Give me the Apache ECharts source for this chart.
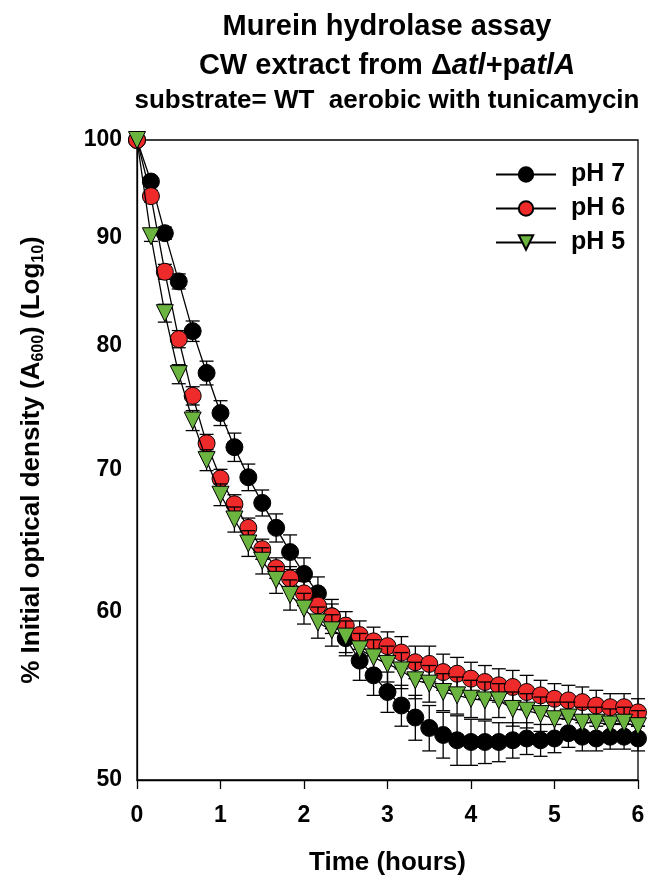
<!DOCTYPE html>
<html>
<head>
<meta charset="utf-8">
<script src="https://cdn.jsdelivr.net/npm/echarts@6/dist/echarts.min.js"></script>
<style>html,body{margin:0;padding:0;background:#fff}#c{width:660px;height:893px}</style>
</head>
<body>
<div id="c"></div>
<script>
const times = [0,0.1667,0.3333,0.5,0.6667,0.8333,1,1.1667,1.3333,1.5,1.6667,1.8333,2,2.1667,2.3333,2.5,2.6667,2.8333,3,3.1667,3.3333,3.5,3.6667,3.8333,4,4.1667,4.3333,4.5,4.6667,4.8333,5,5.1667,5.3333,5.5,5.6667,5.8333,6];
const pH7 = [100,95.6,90.4,85.8,81.3,77.7,74.4,71.7,69.4,67.5,65.7,64.0,62.5,61.2,59.7,58.3,56.9,56.0,55.0,54.2,53.5,52.9,52.5,52.2,52.1,52.1,52.1,52.2,52.3,52.2,52.3,52.6,52.4,52.3,52.4,52.4,52.3];
const pH6 = [100,94.1,86.7,80.6,75.8,72.0,69.3,67.4,65.7,64.2,62.9,62.2,61.2,60.4,59.7,59.1,58.5,58.1,57.8,57.4,56.8,56.7,56.2,56.1,55.8,55.6,55.4,55.3,55.0,54.8,54.6,54.5,54.4,54.2,54.1,54.1,53.8];
const pH5 = [100,90.1,82.9,77.6,73.8,70.7,68.1,66.3,64.6,63.4,62.1,61.1,60.2,59.3,58.8,58.4,57.6,57.1,56.7,56.3,55.7,55.5,55.0,54.8,54.6,54.5,54.5,54.0,53.9,53.7,53.4,53.5,53.2,53.2,53.1,53.2,53.0];
const err7 = [0,0.5,0.6,0.7,0.9,1.0,1.0,1.1,1.0,0.95,1.0,1.2,1.1,1.1,1.1,1.1,1.2,1.2,1.2,1.2,1.3,1.3,1.3,1.4,1.3,1.2,1.1,1.0,0.9,0.9,0.8,0.8,0.8,0.7,0.7,0.7,0.7];
const err6 = [0,0.6,0.7,0.75,0.75,0.7,0.7,0.7,0.7,0.7,0.7,0.8,0.8,0.8,0.8,0.9,0.9,0.9,0.9,1.0,1.0,1.1,1.1,1.0,1.0,1.0,1.0,1.0,1.0,0.9,0.9,0.9,0.9,0.9,0.8,0.8,0.8];
const err5 = [0,0.5,0.8,0.8,0.8,0.8,0.8,0.9,0.9,0.9,0.9,1.0,1.0,1.0,1.0,1.0,1.0,1.1,1.1,1.1,1.1,1.1,1.1,1.1,1.1,1.1,1.0,1.0,1.0,1.0,1.0,0.9,0.9,0.9,0.9,0.9,0.9];
const yTicks = [50,60,70,80,90,100];
const seriesNames = ['pH 7','pH 6','pH 5'];

const FONT = '"Liberation Sans", Arial, sans-serif';
const chart = echarts.init(document.getElementById('c'));

function pts(vals){ return times.map((t,i)=>[t, vals[i]]); }
function errData(vals, errs){ return times.map((t,i)=>[t, vals[i], errs[i]]); }
function errSeries(name, vals, errs, z){
  return {
    type:'custom', name: name+' err', z:z, silent:true, clip:false,
    data: errData(vals, errs),
    renderItem: function(params, api){
      const x = api.value(0), y = api.value(1), e = api.value(2);
      if (!e) return null;
      const top = api.coord([x, y+e]);
      const bot = api.coord([x, y-e]);
      const w = 7;
      const st = {stroke:'#000', lineWidth:1.3};
      return {type:'group', children:[
        {type:'line', shape:{x1:top[0], y1:top[1], x2:bot[0], y2:bot[1]}, style:st},
        {type:'line', shape:{x1:top[0]-w, y1:top[1], x2:top[0]+w, y2:top[1]}, style:st},
        {type:'line', shape:{x1:bot[0]-w, y1:bot[1], x2:bot[0]+w, y2:bot[1]}, style:st}
      ]};
    }
  };
}
function lineSeries(name, vals, symbol, color, z, size){
  return {
    type:'line', name:name, z:z, data: pts(vals), clip:false,
    symbol: symbol, symbolSize: size, showAllSymbol:true,
    lineStyle:{color:'#000', width:1.3},
    itemStyle:{color:color, borderColor:'#000', borderWidth:1},
    emphasis:{disabled:true}, animation:false
  };
}

const option = {
  animation:false,
  backgroundColor:'#fff',
  grid:{left:137, right:22, top:140, bottom:113, show:true, borderColor:'#000', borderWidth:1.3, backgroundColor:'transparent'},
  xAxis:{
    type:'value', min:0, max:6, interval:1,
    axisLine:{lineStyle:{color:'#000', width:1.3}},
    axisTick:{show:true, length:9, inside:false, lineStyle:{color:'#000', width:1.3}},
    axisLabel:{margin:24, color:'#000', fontFamily:FONT, fontWeight:'bold', fontSize:23},
    splitLine:{show:false},
    name:'Time (hours)', nameLocation:'middle', nameGap:70,
    nameTextStyle:{color:'#000', fontFamily:FONT, fontWeight:'bold', fontSize:26}
  },
  yAxis:{
    type:'log', logBase:10, min:50, max:100,
    axisLine:{show:true, lineStyle:{color:'#000', width:1.3}},
    axisTick:{show:false, customValues:yTicks},
    axisLabel:{margin:15, color:'#000', fontFamily:FONT, fontWeight:'bold', fontSize:23, customValues:yTicks},
    splitLine:{show:false},
    minorTick:{show:false}
  },
  legend:{
    data: seriesNames, orient:'vertical', left:495, top:162, itemWidth:60, itemHeight:18, itemGap:9,
    padding:0, selectedMode:false,
    textStyle:{color:'#000', fontFamily:FONT, fontWeight:'bold', fontSize:25, padding:[0,0,0,10]}
  },
  graphic:[
    {type:'text', x:387, y:27, style:{text:'Murein hydrolase assay', align:'center', verticalAlign:'middle', fill:'#000', font:'bold 29px '+FONT}},
    {type:'text', x:387, y:66, style:{text:'{n|CW extract from Δ}{i|atl}{n|+p}{i|atlA}', align:'center', verticalAlign:'middle',
      rich:{n:{fill:'#000', fontFamily:FONT, fontWeight:'bold', fontSize:29}, i:{fill:'#000', fontFamily:FONT, fontWeight:'bold', fontStyle:'italic', fontSize:29}}}},
    {type:'text', x:387, y:101, style:{text:'substrate= WT  aerobic with tunicamycin', align:'center', verticalAlign:'middle', fill:'#000', font:'bold 26px '+FONT}},
    {type:'text', x:32, y:460, rotation:Math.PI/2, style:{text:'{n|% Initial optical density (A}{s|600}{n|) (Log}{s|10}{n|)}', align:'center', verticalAlign:'middle',
      rich:{n:{fill:'#000', fontFamily:FONT, fontWeight:'bold', fontSize:26, lineHeight:30}, s:{fill:'#000', fontFamily:FONT, fontWeight:'bold', fontSize:16, lineHeight:30, verticalAlign:'bottom', padding:[10,0,0,0]}}}}
  ],
  series:[
    errSeries('pH 7', pH7, err7, 1),
    lineSeries('pH 7', pH7, 'circle', '#000000', 2, 17),
    errSeries('pH 6', pH6, err6, 3),
    lineSeries('pH 6', pH6, 'circle', '#EE2A2A', 4, 17),
    errSeries('pH 5', pH5, err5, 5),
    lineSeries('pH 5', pH5, 'triangle', '#6CB440', 6, 17)
  ]
};
option.series[5].symbolRotate = 180;
chart.setOption(option);
</script>
</body>
</html>
